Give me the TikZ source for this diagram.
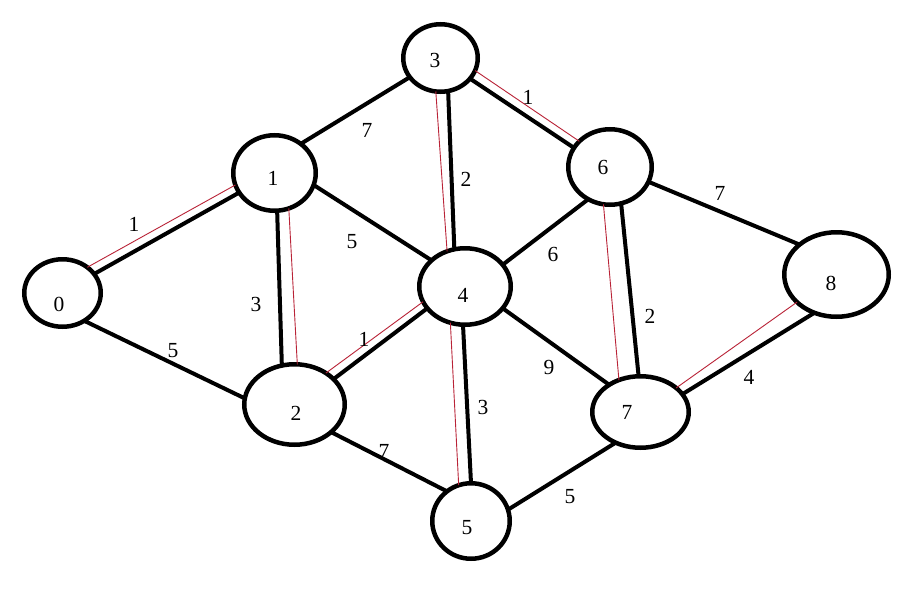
\documentclass[tikz,border=0pt]{standalone}
\usepackage{fontspec}
\setmainfont{Liberation Serif}
\usetikzlibrary{shapes.geometric}
\definecolor{mstred}{RGB}{185,35,55}
\begin{document}
\begin{tikzpicture}[x=1pt,y=-1pt,
  vertex/.style={draw, ellipse, line width=4.5pt, inner sep=0pt, outer sep=0pt},
  edge/.style={line width=4pt},
  mst/.style={draw=mstred, line width=0.9pt},
  num/.style={font=\fontsize{21.5}{25}\selectfont, inner sep=0pt},
]
\useasboundingbox[fill=white] (0,0) rectangle (908,613);
% vertices
\node[vertex, minimum width=76.5pt,  minimum height=67.5pt] (v0) at (62.5,293) {};
\node[vertex, minimum width=82.5pt,  minimum height=75.5pt] (v1) at (274.5,173) {};
\node[vertex, minimum width=100.5pt, minimum height=80.5pt] (v2) at (294.5,404.5) {};
\node[vertex, minimum width=74.5pt,  minimum height=67.5pt] (v3) at (440.5,58) {};
\node[vertex, minimum width=91.5pt,  minimum height=76.5pt] (v4) at (465,286.5) {};
\node[vertex, minimum width=77.5pt,  minimum height=75.5pt] (v5) at (471,521) {};
\node[vertex, minimum width=83.5pt,  minimum height=75.5pt] (v6) at (610,167) {};
\node[vertex, minimum width=96.5pt,  minimum height=71.5pt] (v7) at (640.5,412) {};
\node[vertex, minimum width=104.5pt, minimum height=84.5pt] (v8) at (836.5,274.5) {};
% vertex numbers
\node[num] (t0) at (59,304) {0};
\node[num] (t1) at (273,178) {1};
\node[num] (t2) at (296,413) {2};
\node[num] (t3) at (435,60) {3};
\node[num] (t4) at (463,295) {4};
\node[num] (t5) at (467,528) {5};
\node[num] (t6) at (603,167) {6};
\node[num] (t7) at (627,412) {7};
\node[num] (t8) at (831,283) {8};
% edges
\draw[edge] (v0.31) -- (v1.209);
\draw[mst]  (v0.46) -- (v1.197);
\draw[edge] (v0.308) -- (v2.173);
\draw[edge] (v1.48) -- (v3.212);
\draw[edge] (v1.343) -- (v4.142);
\draw[edge] (v1.274) -- (v2.108);
\draw[mst]  (v1.292) -- (v2.86);
\draw[edge] (v2.33) -- (v4.210);
\draw[mst]  (v2.45) -- (v4.200);
\draw[edge] (v2.323) -- (v5.129);
\draw[edge] (v3.283) -- (v4.106);
\draw[mst]  (v3.262) -- (v4.117);
\draw[edge] (v3.325) -- (v6.152);
\draw[mst]  (v3.340) -- (v6.140);
\draw[edge] (v4.267) -- (v5.90);
\draw[mst]  (v4.248) -- (v5.109);
\draw[edge] (v4.30) -- (v6.236);
\draw[edge] (v4.330) -- (v7.139);
\draw[edge] (v5.17) -- (v7.231);
\draw[edge] (v6.287) -- (v7.93);
\draw[mst]  (v6.260) -- (v7.124);
\draw[edge] (v6.339) -- (v8.141);
\draw[edge] (v7.23) -- (v8.240);
\draw[mst]  (v7.34) -- (v8.215);
% edge weights
\node[num] (w01) at (134,224) {1};
\node[num] (w02) at (173,351) {5};
\node[num] (w13) at (367,130) {7};
\node[num] (w14) at (352,242) {5};
\node[num] (w12) at (256,304) {3};
\node[num] (w24) at (364,339) {1};
\node[num] (w25) at (384,451) {7};
\node[num] (w34) at (466,179) {2};
\node[num] (w36) at (528,97) {1};
\node[num] (w46) at (553,254) {6};
\node[num] (w45) at (483,407) {3};
\node[num] (w47) at (549,367) {9};
\node[num] (w68) at (720,193) {7};
\node[num] (w67) at (650,316) {2};
\node[num] (w78) at (749,377) {4};
\node[num] (w57) at (570,497) {5};
\end{tikzpicture}
\end{document}
